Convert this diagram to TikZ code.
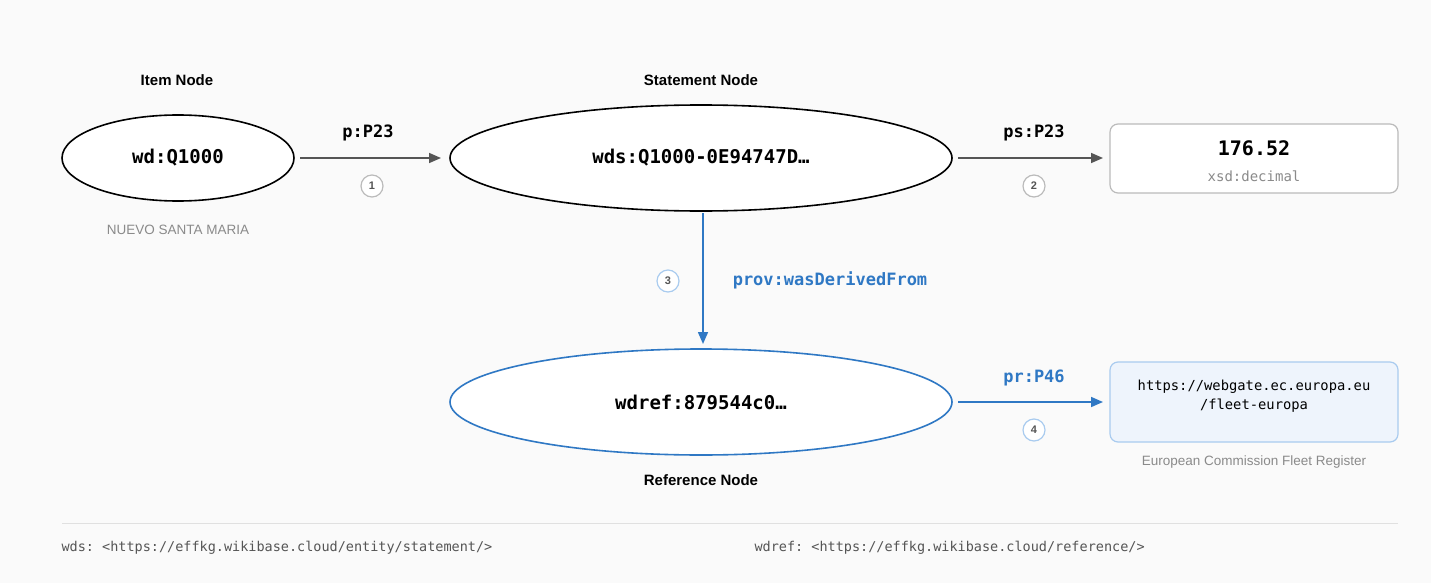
\documentclass[tikz,border=0pt]{standalone}
\usepackage{fontspec}
\setmainfont{Liberation Sans}
\setmonofont{DejaVu Sans Mono}
\usetikzlibrary{shapes.geometric,arrows.meta}
\definecolor{bg}{HTML}{FAFAFA}
\definecolor{blu}{HTML}{2F78C4}
\definecolor{gtext}{HTML}{8A8A8A}
\definecolor{gline}{HTML}{555555}
\definecolor{lblue}{HTML}{EEF4FC}
\definecolor{lbord}{HTML}{A9CBEF}
\definecolor{circ}{HTML}{BBBBBB}
\begin{document}
\begin{tikzpicture}[x=1pt,y=-1pt,
  ell/.style={ellipse,draw,line width=1.6pt,fill=white,inner sep=0pt},
  nt/.style={font=\ttfamily\bfseries\fontsize{19}{22}\selectfont},
  lab/.style={font=\ttfamily\bfseries\fontsize{17}{20}\selectfont},
  title/.style={font=\bfseries\fontsize{15}{18}\selectfont},
  grey/.style={font=\fontsize{13.5}{16}\selectfont,text=gtext},
  num/.style={circle,draw=circ,line width=1.2pt,fill=white,minimum size=22pt,inner sep=0pt,font=\bfseries\fontsize{11}{12}\selectfont,text=gline},
  arr/.style={-{Triangle[length=12pt,width=10pt]},line width=1.6pt,draw=gline},
  foot/.style={font=\ttfamily\fontsize{13.5}{16}\selectfont,text=gline,anchor=west}]
\fill[bg] (0,0) rectangle (1431,583);
\node[ell,minimum width=232pt,minimum height=86pt] (item) at (178,158) {};
\node[nt] at (item) {wd:Q1000};
\node[ell,minimum width=502pt,minimum height=106pt] (st) at (701,158) {};
\node[nt] at (st) {wds:Q1000-0E94747D…};
\node[ell,draw=blu,minimum width=502pt,minimum height=106pt] (ref) at (701,402) {};
\node[nt] at (ref) {wdref:879544c0…};
\node[draw=circ,line width=1.2pt,fill=white,rounded corners=8pt,minimum width=288pt,minimum height=69pt] (val) at (1254,158.5) {};
\node[font=\ttfamily\bfseries\fontsize{20}{22}\selectfont] at (1254,148) {176.52};
\node[font=\ttfamily\fontsize{14}{16}\selectfont,text=gtext] at (1254,176) {xsd:decimal};
\node[draw=lbord,fill=lblue,line width=1.2pt,rounded corners=8pt,minimum width=288pt,minimum height=80pt] (url) at (1254,402) {};
\node[font=\ttfamily\fontsize{13.8}{16}\selectfont,align=center] at (1254,396) {https://webgate.ec.europa.eu\\[3pt]/fleet-europa};
\node[title] (t1) at (177,80) {Item Node};
\node[title] (t2) at (701,80) {Statement Node};
\node[title] (t3) at (701,480) {Reference Node};
\node[grey] (g1) at (178,230) {NUEVO SANTA MARIA};
\node[grey] (g2) at (1254,462) {European Commission Fleet Register};
\coordinate (a1s) at (300,158); \coordinate (a1e) at (441,158);
\coordinate (a2s) at (958,158); \coordinate (a2e) at (1103,158);
\coordinate (a3s) at (703,213); \coordinate (a3e) at (703,344);
\coordinate (a4s) at (958,402); \coordinate (a4e) at (1103,402);
\draw[arr] (a1s) -- (a1e);
\draw[arr] (a2s) -- (a2e);
\draw[arr,draw=blu] (a3s) -- (a3e);
\draw[arr,draw=blu] (a4s) -- (a4e);
\node[lab] (l1) at (368,133) {p:P23};
\node[lab] (l2) at (1034,133) {ps:P23};
\node[lab,text=blu] (l3) at (830,280) {prov:wasDerivedFrom};
\node[lab,text=blu] (l4) at (1034,378) {pr:P46};
\node[num] (n1) at (372,186) {1};
\node[num] (n2) at (1034,186) {2};
\node[num,draw=lbord] (n3) at (668,281) {3};
\node[num,draw=lbord] (n4) at (1034,430) {4};
\coordinate (hl) at (62,523); \coordinate (hr) at (1398,523);
\draw[draw=black!12,line width=1pt] (hl) -- (hr);
\node[foot] (f1) at (58,548) {wds: <https://effkg.wikibase.cloud/entity/statement/>};
\node[foot] (f2) at (751,548) {wdref: <https://effkg.wikibase.cloud/reference/>};
\end{tikzpicture}
\end{document}
